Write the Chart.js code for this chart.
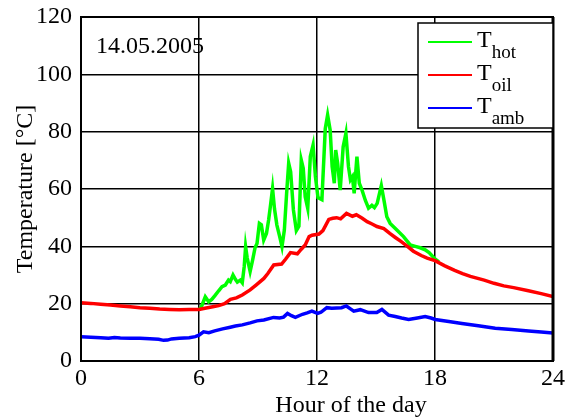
<!DOCTYPE html>
<html>
<head>
<meta charset="utf-8">
<script src="https://cdn.jsdelivr.net/npm/chart.js@4/dist/chart.umd.min.js"></script>
<style>
  html, body { margin: 0; padding: 0; background: #fff; }
  #wrap { width: 571px; height: 417px; }
</style>
</head>
<body>
<div id="wrap"><canvas id="c" width="571" height="417"></canvas></div>
<script>
// ---- Data ----
const xTicks = [0, 6, 12, 18, 24];
const yTicks = [0, 20, 40, 60, 80, 100, 120];

const hotHours = [6.0, 6.1, 6.32, 6.49, 6.65, 6.83, 7.0, 7.17, 7.34, 7.5, 7.59, 7.73, 7.85, 7.95, 8.1, 8.2, 8.3, 8.37, 8.45, 8.6, 8.72, 8.85, 8.95, 9.07, 9.17, 9.29, 9.43, 9.54, 9.63, 9.74, 9.84, 9.96, 10.1, 10.22, 10.34, 10.46, 10.56, 10.66, 10.8, 10.95, 11.08, 11.2, 11.3, 11.4, 11.53, 11.66, 11.8, 11.92, 12.05, 12.25, 12.42, 12.54, 12.67, 12.77, 12.88, 12.95, 13.05, 13.18, 13.33, 13.47, 13.6, 13.7, 13.8, 13.89, 14.03, 14.15, 14.29, 14.46, 14.62, 14.79, 14.92, 15.06, 15.27, 15.42, 15.55, 15.72, 16.06, 16.4, 16.74, 17.0, 17.25, 17.5, 17.7, 18.0, 18.2];
const hotValues = [18.0, 18.5, 22.4, 20.7, 21.5, 23.0, 24.5, 25.9, 26.5, 28.2, 27.7, 30.0, 28.5, 27.5, 28.2, 27.3, 33.0, 39.9, 36.0, 31.2, 35.0, 39.5, 41.0, 48.0, 47.5, 42.2, 44.5, 49.2, 54.0, 60.2, 53.0, 47.4, 43.5, 39.9, 45.7, 59.0, 69.0, 66.0, 52.7, 45.5, 47.0, 70.1, 67.2, 57.3, 53.2, 71.3, 75.3, 64.3, 57.0, 56.3, 81.0, 85.8, 80.5, 67.8, 62.0, 73.6, 69.0, 59.6, 74.7, 79.4, 67.8, 63.2, 64.3, 58.5, 71.3, 62.0, 59.6, 56.0, 53.3, 54.3, 53.5, 55.0, 61.2, 55.5, 50.3, 48.0, 45.7, 43.4, 40.5, 40.0, 39.5, 38.8, 37.8, 35.6, 34.6];

const oilHours = [0, 0.5, 1, 1.5, 2, 2.5, 3, 3.5, 4, 4.5, 5, 5.5, 6, 6.3, 6.7, 7, 7.3, 7.6, 7.9, 8.2, 8.6, 8.9, 9.3, 9.5, 9.8, 10.2, 10.4, 10.65, 11.0, 11.2, 11.4, 11.6, 11.75, 12.1, 12.3, 12.6, 12.8, 13.0, 13.2, 13.5, 13.8, 14.0, 14.3, 14.55, 14.8, 15.05, 15.4, 15.7, 16.0, 16.25, 16.6, 16.9, 17.3, 17.6, 18.0, 18.5, 19.0, 19.4, 19.8, 20.5, 21.0, 21.5, 22.0, 22.75, 23.4, 24.0];
const oilValues = [20.3, 20.1, 19.8, 19.5, 19.2, 18.9, 18.6, 18.4, 18.1, 18.0, 17.9, 18.0, 18.0, 18.4, 18.9, 19.3, 20.0, 21.5, 22.0, 23.0, 24.8, 26.5, 28.8, 30.5, 33.5, 33.8, 35.5, 37.8, 37.4, 39.0, 40.5, 43.4, 43.9, 44.3, 45.5, 49.4, 49.8, 50.0, 49.6, 51.5, 50.5, 51.0, 49.8, 48.6, 47.8, 46.9, 46.2, 44.5, 43.0, 41.8, 40.0, 38.3, 36.8, 35.9, 35.0, 33.2, 31.6, 30.5, 29.5, 28.2, 27.1, 26.2, 25.6, 24.5, 23.5, 22.5];

const ambHours = [0, 0.5, 1, 1.4, 1.7, 2, 2.5, 3, 3.5, 3.95, 4.2, 4.4, 4.6, 5, 5.5, 5.81, 6.0, 6.23, 6.5, 6.8, 7.2, 7.59, 7.85, 8.2, 8.6, 8.95, 9.3, 9.79, 10.1, 10.3, 10.5, 10.7, 10.9, 11.26, 11.5, 11.74, 12.03, 12.2, 12.5, 12.75, 13.0, 13.25, 13.49, 13.7, 13.87, 14.2, 14.62, 15.04, 15.3, 15.64, 15.98, 16.3, 16.66, 17.1, 17.5, 17.8, 18.01, 18.7, 19.37, 20.2, 21.06, 21.9, 22.76, 23.4, 24.0];
const ambValues = [8.5, 8.3, 8.1, 7.9, 8.2, 8.0, 7.9, 7.9, 7.8, 7.6, 7.2, 7.3, 7.7, 7.9, 8.1, 8.5, 9.0, 10.2, 9.9, 10.5, 11.2, 11.8, 12.2, 12.6, 13.3, 14.0, 14.3, 15.2, 15.0, 15.3, 16.6, 15.8, 15.2, 16.3, 16.8, 17.4, 16.6, 17.0, 18.6, 18.4, 18.5, 18.6, 19.2, 18.2, 17.4, 17.9, 16.9, 16.9, 18.0, 16.0, 15.5, 15.0, 14.5, 15.0, 15.5, 15.0, 14.5, 13.8, 13.1, 12.3, 11.4, 11.0, 10.5, 10.1, 9.8];

const seriesNames = [["T", "hot"], ["T", "oil"], ["T", "amb"]];
const seriesColors = ["#00ff00", "#ff0000", "#0000ff"];
const dateLabel = "14.05.2005";
const xTitle = "Hour of the day";
const yTitle = "Temperature [°C]";

// ---- build ----
function pts(xs, ys) { return xs.map((x, i) => ({ x: x, y: ys[i] })); }
const FONT = "'Liberation Serif', 'Times New Roman', serif";

const overlay = {
  id: 'overlay',
  afterDraw(chart) {
    const ctx = chart.ctx;
    const a = chart.chartArea;
    ctx.save();
    // frame
    ctx.strokeStyle = '#000';
    ctx.lineWidth = 2;
    ctx.strokeRect(a.left, a.top, a.right - a.left, a.bottom - a.top);
    ctx.lineWidth = 3;
    ctx.beginPath(); ctx.moveTo(a.right, a.top); ctx.lineTo(a.right, a.bottom); ctx.stroke();
    // date label
    ctx.fillStyle = '#000';
    ctx.font = "24px " + FONT;
    ctx.textBaseline = 'alphabetic';
    ctx.textAlign = 'left';
    ctx.fillText(dateLabel, a.left + 15, a.top + 36);
    // x title (offset to the right as in reference)
    ctx.textAlign = 'center';
    ctx.fillText(xTitle, (a.left + a.right) / 2 + 34, 412);
    // legend
    const lx = a.right - 135, ly = a.top + 6, lw = 135, lh = 105;
    ctx.fillStyle = '#fff';
    ctx.fillRect(lx, ly, lw, lh);
    ctx.strokeStyle = '#000';
    ctx.lineWidth = 1.5;
    ctx.strokeRect(lx, ly, lw, lh);
    for (let i = 0; i < seriesNames.length; i++) {
      const yl = ly + 19 + i * 33;
      ctx.strokeStyle = seriesColors[i];
      ctx.lineWidth = 2;
      ctx.beginPath(); ctx.moveTo(lx + 10, yl); ctx.lineTo(lx + 54, yl); ctx.stroke();
      ctx.fillStyle = '#000';
      ctx.textAlign = 'left';
      ctx.font = "24px " + FONT;
      ctx.fillText(seriesNames[i][0], lx + 59, yl + 5);
      const tw = ctx.measureText(seriesNames[i][0]).width;
      ctx.font = "19px " + FONT;
      ctx.fillText(seriesNames[i][1], lx + 59 + tw, yl + 16);
    }
    ctx.restore();
  }
};

new Chart(document.getElementById('c'), {
  type: 'line',
  data: {
    datasets: [
      { label: 'T_hot', data: pts(hotHours, hotValues), borderColor: seriesColors[0], borderWidth: 3.5, pointRadius: 0, tension: 0, order: 2 },
      { label: 'T_oil', data: pts(oilHours, oilValues), borderColor: seriesColors[1], borderWidth: 3.5, pointRadius: 0, tension: 0, order: 1 },
      { label: 'T_amb', data: pts(ambHours, ambValues), borderColor: seriesColors[2], borderWidth: 3.5, pointRadius: 0, tension: 0, order: 0 }
    ]
  },
  options: {
    responsive: false,
    animation: false,
    devicePixelRatio: 1,
    layout: { padding: { left: 0, right: 18, top: 17, bottom: 0 } },
    plugins: { legend: { display: false }, tooltip: { enabled: false } },
    scales: {
      x: {
        type: 'linear', min: 0, max: 24,
        afterBuildTicks: (s) => { s.ticks = xTicks.map(v => ({ value: v })); },
        afterFit: (s) => { s.height = 56; s.paddingLeft = 0; s.paddingRight = 0; },
        grid: { color: '#000', lineWidth: 1.5, drawTicks: false },
        border: { display: false },
        ticks: { color: '#000', font: { family: FONT, size: 24 }, padding: 3, maxRotation: 0, autoSkip: false },
        title: { display: false }
      },
      y: {
        type: 'linear', min: 0, max: 120,
        afterBuildTicks: (s) => { s.ticks = yTicks.map(v => ({ value: v })); },
        afterFit: (s) => { s.width = 81; s.paddingTop = 0; s.paddingBottom = 0; },
        grid: { color: '#000', lineWidth: 1.5, drawTicks: false },
        border: { display: false },
        ticks: { color: '#000', font: { family: FONT, size: 24 }, padding: 9 },
        title: { display: true, text: yTitle, color: '#000', font: { family: FONT, size: 24 }, padding: { top: 11, bottom: 0 } }
      }
    }
  },
  plugins: [overlay]
});
</script>
</body>
</html>
